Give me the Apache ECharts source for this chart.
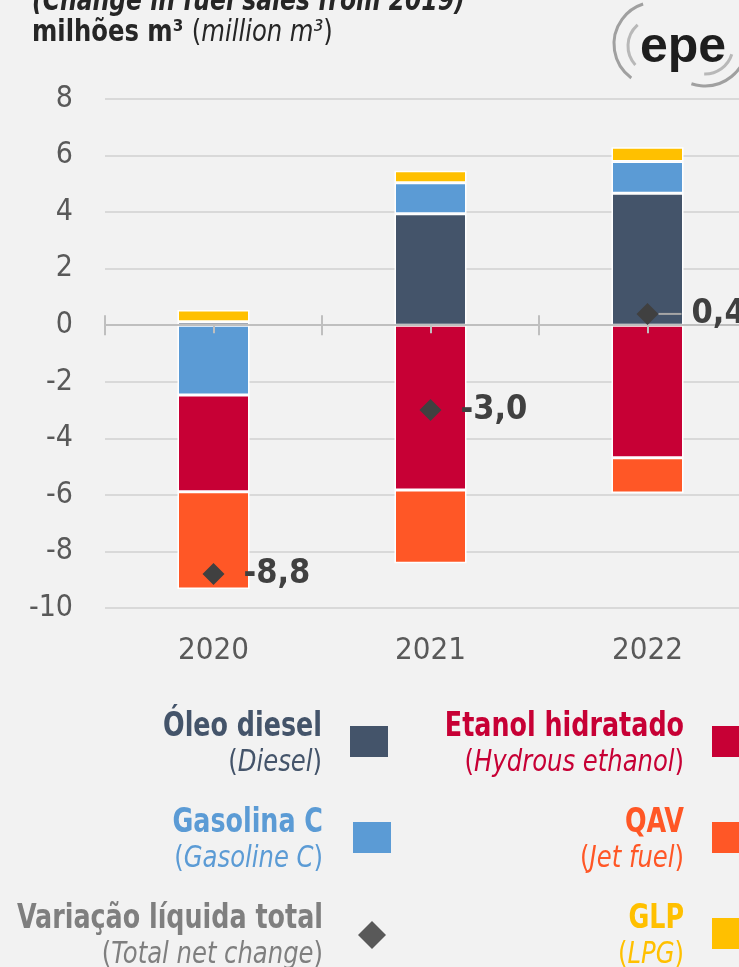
<!DOCTYPE html>
<html style="height: 100%">
<head>
    <meta charset="utf-8">
</head>
<body style="height: 100%; margin: 0; background: #f2f2f2">
    <div id="container" style="width: 739px; height: 967px"></div>
    <script type="text/javascript" src="https://cdn.jsdelivr.net/npm/echarts@6/dist/echarts.min.js"></script>
    <script type="text/javascript">
// variation in fuel sales vs 2019, million m3
var years = ['2020', '2021', '2022'];
var diesel = [0.12, 3.94, 4.67];
var gasoline = [-2.47, 1.10, 1.12];
var ethanol = [-3.42, -5.83, -4.69];
var jetFuel = [-3.44, -2.59, -1.24];
var lpg = [0.42, 0.42, 0.50];
var netChange = [-8.8, -3.0, 0.4];
var netLabels = ['-8,8', '-3,0', '0,4'];
var yTicks = { min: -10, max: 8, step: 2 };

var FONT = '"DejaVu Sans Condensed", "Liberation Sans Narrow", "Roboto", sans-serif';
var colors = {
    diesel: '#44546a',
    gasoline: '#5b9bd5',
    ethanol: '#c70035',
    jet: '#ff5726',
    lpg: '#ffc000',
    net: '#404040'
};

var dom = document.getElementById('container');
var myChart = echarts.init(dom);

function barSeries(name, data, color) {
    return {
        name: name,
        type: 'bar',
        stack: 'total',
        barWidth: 72,
        data: data,
        z: 2,
        itemStyle: {
            color: color,
            borderColor: '#ffffff',
            borderWidth: 1.5
        }
    };
}

var netData = netChange.map(function (v, i) {
    var last = i === netChange.length - 1;
    return {
        value: v,
        label: last ? {
            distance: 0,
            formatter: '{l|}{g|}{v|' + netLabels[i] + '}'
        } : {
            distance: 19,
            formatter: '{v|' + netLabels[i] + '}'
        }
    };
});

// legend built by hand: two columns, text right-aligned next to the swatch
function legendText(x, y, name, en, color) {
    return [
        {
            type: 'text', x: x, y: y, scaleX: 0.83,
            style: {
                text: name, fill: color, font: 'bold 34px ' + FONT,
                align: 'right', textAlign: 'right',
                verticalAlign: 'middle', textVerticalAlign: 'middle'
            }
        },
        {
            type: 'text', x: x, y: y + 36, scaleX: 0.9,
            style: {
                text: '{p|(}{i|' + en + '}{p|)}',
                align: 'right', textAlign: 'right',
                verticalAlign: 'middle', textVerticalAlign: 'middle',
                rich: {
                    p: { fill: color, color: color, font: '30px ' + FONT },
                    i: { fill: color, color: color, font: 'italic 30px ' + FONT }
                }
            }
        }
    ];
}
function swatch(x, y, color) {
    return {
        type: 'rect',
        shape: { x: x, y: y, width: 38, height: 31 },
        style: { fill: color }
    };
}

var graphics = [
    {
        type: 'text', x: 32, y: 2, scaleX: 0.87,
        style: {
            text: '(Change in fuel sales from 2019)',
            fill: '#262626', font: 'italic bold 30px ' + FONT,
            verticalAlign: 'middle', textVerticalAlign: 'middle'
        }
    },
    {
        type: 'text', x: 32, y: 33, scaleX: 0.9,
        style: {
            text: '{b|milhões m³ }{p|(}{i|million m³}{p|)}',
            verticalAlign: 'middle', textVerticalAlign: 'middle',
            rich: {
                b: { fill: '#262626', color: '#262626', font: 'bold 30px ' + FONT },
                p: { fill: '#262626', color: '#262626', font: '30px ' + FONT },
                i: { fill: '#262626', color: '#262626', font: 'italic 30px ' + FONT }
            }
        }
    },
    // epe logo
    { type: 'arc', shape: { cx: 656, cy: 44, r: 42, startAngle: 2.2, endAngle: 4.4 },
      style: { stroke: '#a0a0a0', lineWidth: 3, fill: null } },
    { type: 'arc', shape: { cx: 656, cy: 46, r: 28, startAngle: 2.4, endAngle: 4.0 },
      style: { stroke: '#b8b8b8', lineWidth: 3, fill: null } },
    { type: 'arc', shape: { cx: 705, cy: 44, r: 42, startAngle: 0.1, endAngle: 1.9 },
      style: { stroke: '#a0a0a0', lineWidth: 3, fill: null } },
    { type: 'arc', shape: { cx: 705, cy: 46, r: 28, startAngle: 0.3, endAngle: 1.6 },
      style: { stroke: '#b8b8b8', lineWidth: 3, fill: null } },
    {
        type: 'text', x: 683, y: 48,
        style: {
            text: 'epe', fill: '#1e1e1e', font: 'bold 50px "Liberation Sans", sans-serif',
            align: 'center', textAlign: 'center',
            verticalAlign: 'middle', textVerticalAlign: 'middle'
        }
    },
    swatch(350, 726, colors.diesel),
    swatch(712, 726, colors.ethanol),
    swatch(353, 822, colors.gasoline),
    swatch(712, 822, colors.jet),
    swatch(712, 918, colors.lpg),
    {
        type: 'polygon',
        shape: { points: [[372, 921], [386, 935], [372, 949], [358, 935]] },
        style: { fill: '#595959' }
    }
].concat(
    legendText(322, 727, 'Óleo diesel', 'Diesel', colors.diesel),
    legendText(684, 727, 'Etanol hidratado', 'Hydrous ethanol', colors.ethanol),
    legendText(323, 823, 'Gasolina C', 'Gasoline C', colors.gasoline),
    legendText(684, 823, 'QAV', 'Jet fuel', colors.jet),
    legendText(323, 919, 'Variação líquida total', 'Total net change', '#7f7f7f'),
    legendText(684, 919, 'GLP', 'LPG', colors.lpg)
);

// overlay axes drawing the zero line with its ticks, each sits on its own hidden y axis
function zeroAxis(yIndex, tick) {
    return {
        type: 'category',
        data: years,
        position: 'bottom',
        z: 3,
        axisLine: { show: true, onZero: true, onZeroAxisIndex: yIndex, lineStyle: { color: '#bfbfbf', width: 2 } },
        axisTick: echarts.util.merge({ show: true, lineStyle: { color: '#bfbfbf', width: 2 } }, tick),
        axisLabel: { show: false },
        splitLine: { show: false }
    };
}
function hiddenY() {
    return { type: 'value', min: yTicks.min, max: yTicks.max, interval: yTicks.step, show: false };
}

option = {
    backgroundColor: '#f2f2f2',
    animation: false,
    graphic: graphics,
    grid: {
        left: 105,
        top: 99,
        width: 651,
        bottom: 359,
        outerBoundsMode: 'none',
        containLabel: false
    },
    xAxis: [
        {
            type: 'category',
            data: years,
            position: 'bottom',
            axisLine: { show: false, onZero: false },
            axisTick: { show: false },
            axisLabel: { fontSize: 31, color: '#595959', fontFamily: FONT, margin: 27 }
        },
        zeroAxis(0, { length: 10 }),
        zeroAxis(1, { inside: true, length: 10 }),
        zeroAxis(2, { alignWithLabel: true, length: 8 })
    ],
    yAxis: [
        {
            type: 'value',
            min: yTicks.min,
            max: yTicks.max,
            interval: yTicks.step,
            axisLine: { show: false },
            axisTick: { show: false },
            axisLabel: { fontSize: 30, color: '#595959', fontFamily: FONT, margin: 32 },
            splitLine: { lineStyle: { color: '#d9d9d9', width: 2 } }
        },
        hiddenY(),
        hiddenY()
    ],
    series: [
        barSeries('Óleo diesel', diesel, colors.diesel),
        barSeries('Gasolina C', gasoline, colors.gasoline),
        barSeries('Etanol hidratado', ethanol, colors.ethanol),
        barSeries('QAV', jetFuel, colors.jet),
        barSeries('GLP', lpg, colors.lpg),
        {
            name: 'Variação líquida total',
            type: 'scatter',
            symbol: 'diamond',
            symbolSize: 22,
            z: 5,
            itemStyle: { color: colors.net, opacity: 1 },
            label: {
                show: true,
                position: 'right',
                rich: {
                    v: { fontSize: 34, fontWeight: 'bold', color: colors.net, fontFamily: FONT },
                    l: { width: 23, height: 2, backgroundColor: '#a6a6a6', padding: 0 },
                    g: { width: 10, height: 2 }
                }
            },
            data: netData
        }
    ]
};
if (option && typeof option === "object") {
    myChart.setOption(option, true);
}
    </script>
</body>
</html>
